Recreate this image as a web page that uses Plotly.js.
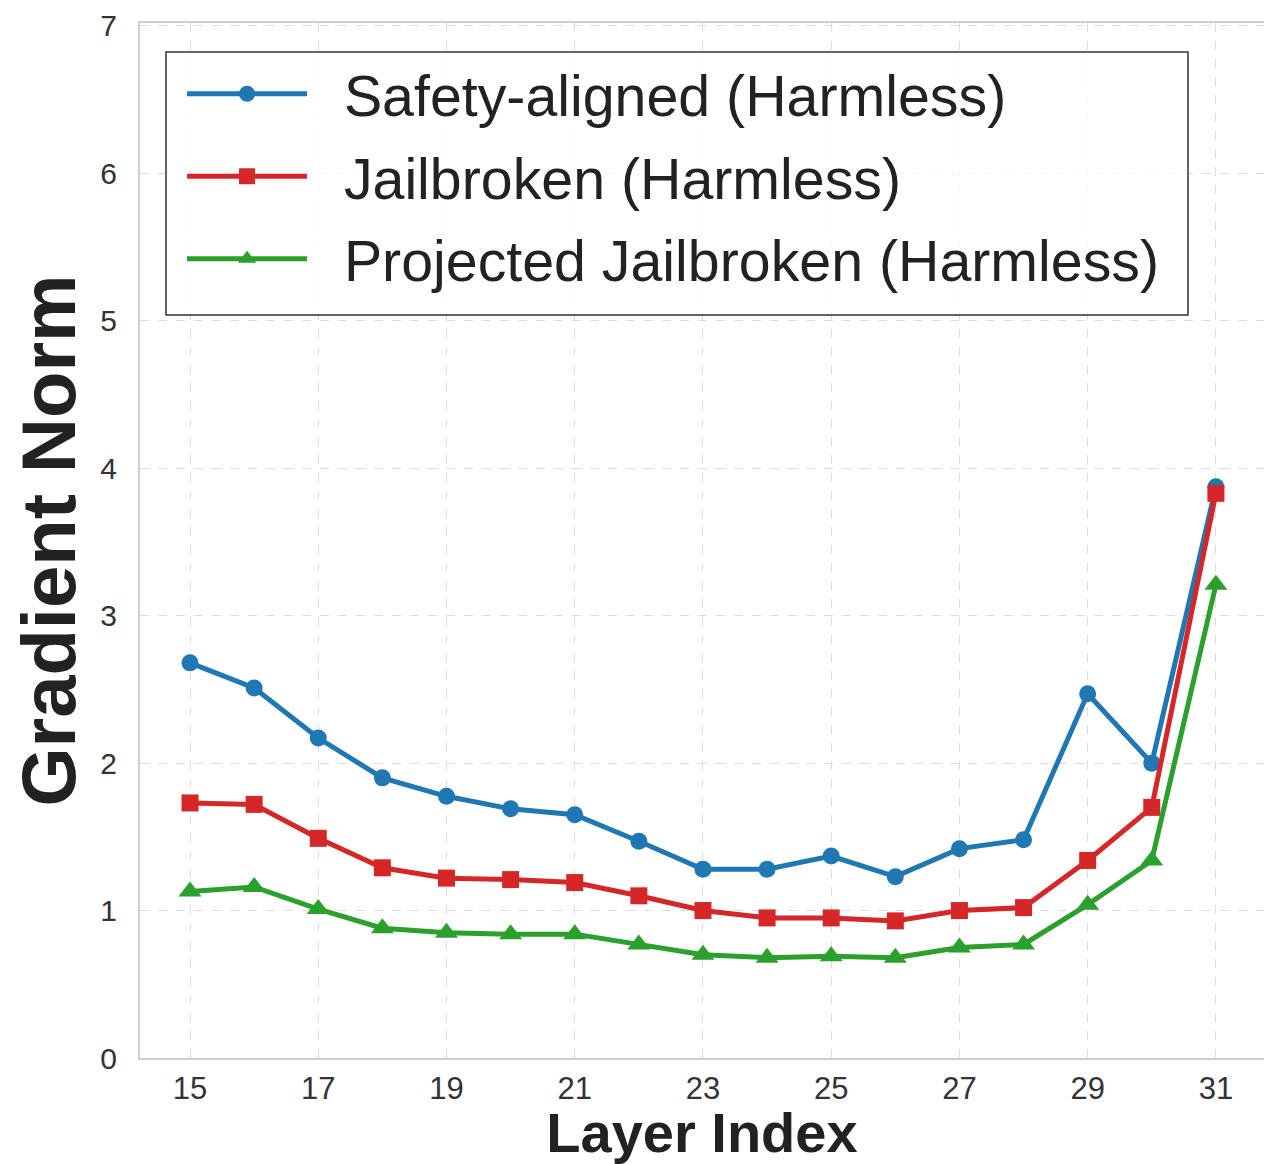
<!DOCTYPE html>
<html>
<head>
<meta charset="utf-8">
<script src="https://cdn.plot.ly/plotly-3.0.1.min.js"></script>
<style>
html, body { margin: 0; padding: 0; background: #fff; overflow: hidden; }
#chart { width: 1264px; height: 1164px; }
</style>
</head>
<body>
<div id="chart"></div>
<script>
const layers = [15, 16, 17, 18, 19, 20, 21, 22, 23, 24, 25, 26, 27, 28, 29, 30, 31];
const safetyAligned = [2.68, 2.51, 2.17, 1.90, 1.775, 1.69, 1.65, 1.47, 1.28, 1.28, 1.37, 1.23, 1.42, 1.48, 2.47, 2.00, 3.875];
const jailbroken = [1.73, 1.72, 1.49, 1.29, 1.22, 1.21, 1.19, 1.10, 1.00, 0.95, 0.95, 0.93, 1.00, 1.02, 1.34, 1.70, 3.83];
const projectedJailbroken = [1.13, 1.16, 1.01, 0.88, 0.85, 0.84, 0.84, 0.77, 0.70, 0.68, 0.69, 0.68, 0.75, 0.77, 1.04, 1.34, 3.21];
const seriesNames = ["Safety-aligned (Harmless)", "Jailbroken (Harmless)", "Projected Jailbroken (Harmless)"];
const xTickVals = [15, 17, 19, 21, 23, 25, 27, 29, 31];
const yTickVals = [0, 1, 2, 3, 4, 5, 6, 7];

const pad = "\u00a0\u00a0";
const traces = [
  {x: layers, y: safetyAligned, name: pad + seriesNames[0], legendgroup: "a", mode: "lines+markers",
   line: {color: "#1f77b4", width: 5}, marker: {symbol: "circle", size: 17, color: "#1f77b4"}},
  {x: layers, y: jailbroken, name: pad + seriesNames[1], legendgroup: "b", mode: "lines+markers",
   line: {color: "#d62728", width: 5}, marker: {symbol: "square", size: 17, color: "#d62728"}},
  {x: layers, y: projectedJailbroken, name: pad + seriesNames[2], legendgroup: "c", mode: "lines+markers",
   line: {color: "#2ca02c", width: 5}, marker: {symbol: "triangle-up", size: 20, color: "#2ca02c"}}
];

const layout = {
  width: 1264, height: 1164,
  margin: {l: 140, r: 0, t: 23, b: 106},
  paper_bgcolor: "#fff", plot_bgcolor: "#fff",
  font: {family: "Liberation Sans, Arial, sans-serif", color: "#333"},
  xaxis: {
    range: [14.22, 31.75], tickvals: xTickVals, ticktext: xTickVals.map(String),
    showgrid: true, gridcolor: "#dcdcdc", gridwidth: 1, griddash: "dash",
    showline: true, linecolor: "#cfcfcf", linewidth: 2, mirror: true,
    ticks: "", ticklabelstandoff: 2, zeroline: false,
    tickfont: {size: 31, color: "#333"},
    title: {text: "<b>Layer Index</b>", font: {size: 56, color: "#222"}, standoff: 14}
  },
  yaxis: {
    range: [0, 7.02], tickvals: yTickVals, ticktext: yTickVals.map(String),
    showgrid: true, gridcolor: "#dcdcdc", gridwidth: 1, griddash: "dash",
    showline: true, linecolor: "#cfcfcf", linewidth: 2, mirror: false,
    ticks: "", ticklabelstandoff: 15, zeroline: false,
    tickfont: {size: 30, color: "#333"},
    title: {text: "<b>Gradient Norm</b>", font: {size: 76, color: "#222"}, standoff: 0}
  },
  shapes: [{
    type: "rect", xref: "paper", yref: "paper",
    x0: 0.02313, x1: 0.9324, y0: 0.71787, y1: 0.97198,
    line: {color: "#333", width: 1.5}, fillcolor: "rgba(255,255,255,0.8)", layer: "above"
  }],
  showlegend: true,
  legend: {
    x: 0.0205, y: 0.9739, xanchor: "left", yanchor: "top",
    bgcolor: "rgba(0,0,0,0)", borderwidth: 0,
    font: {size: 57.3, color: "#222"},
    itemwidth: 120, indentation: 19, traceorder: "grouped", tracegroupgap: 5
  }
};

Plotly.newPlot("chart", traces, layout, {displayModeBar: false, staticPlot: true});
</script>
</body>
</html>
